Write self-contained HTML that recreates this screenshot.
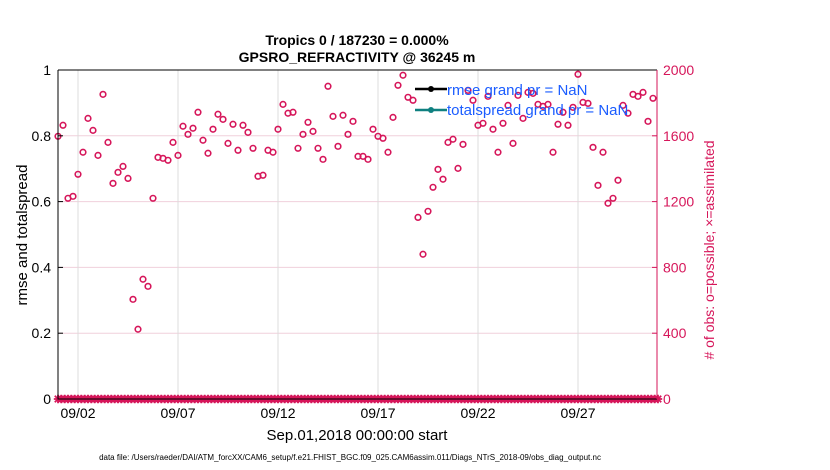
<!DOCTYPE html>
<html><head><meta charset="utf-8"><style>
html,body{margin:0;padding:0;background:#fff;}
svg{display:block;font-family:"Liberation Sans",Arial,sans-serif;}
</style></head><body>
<svg id="chart" width="830" height="470" viewBox="0 0 830 470">
<rect width="830" height="470" fill="#fff"/>
<text x="357" y="45" text-anchor="middle" font-size="14" font-weight="bold">Tropics 0 / 187230 = 0.000%</text>
<text x="357" y="62" text-anchor="middle" font-size="14" font-weight="bold">GPSRO_REFRACTIVITY @ 36245 m</text>
<g id="grid"></g>
<g id="marks"></g>
<g id="axes"></g>
<text transform="translate(27,235) rotate(-90)" text-anchor="middle" font-size="15">rmse and totalspread</text>
<text transform="translate(714,250) rotate(-90)" text-anchor="middle" font-size="14" fill="#d6165a"># of obs: o=possible; ×=assimilated</text>
<text x="357" y="440" text-anchor="middle" font-size="15">Sep.01,2018 00:00:00 start</text>
<text x="350" y="460" text-anchor="middle" font-size="8">data file: /Users/raeder/DAI/ATM_forcXX/CAM6_setup/f.e21.FHIST_BGC.f09_025.CAM6assim.011/Diags_NTrS_2018-09/obs_diag_output.nc</text>
<g id="marksTop"></g>
<g>
<line x1="415" y1="89" x2="447" y2="89" stroke="#000" stroke-width="2.5"/>
<circle cx="431" cy="89" r="3" fill="#000"/>
<text x="447" y="95" font-size="15" fill="#1a5cff">rmse grand pr = NaN</text>
<line x1="415" y1="110" x2="447" y2="110" stroke="#0f8080" stroke-width="2.5"/>
<circle cx="431" cy="110" r="3" fill="#0f8080"/>
<text x="447" y="115" font-size="15" fill="#1a5cff">totalspread grand pr = NaN</text>
</g>
</svg>
<script>
const possibleCounts=[1597,1664,1220,1232,1366,1500,1706,1633,1481,1852,1560,1311,1378,1414,1341,606,424,728,685,1220,1469,1463,1451,1560,1481,1658,1609,1646,1743,1573,1494,1640,1731,1700,1554,1670,1512,1664,1621,1524,1354,1360,1512,1500,1640,1791,1737,1743,1524,1609,1682,1627,1524,1457,1901,1718,1536,1725,1609,1688,1475,1475,1457,1640,1597,1585,1500,1712,1907,1968,1834,1816,1104,880,1141,1287,1396,1336,1560,1579,1402,1548,1876,1816,1664,1676,1840,1640,1500,1676,1785,1554,1846,1706,1864,1858,1791,1779,1791,1500,1670,1743,1664,1773,1974,1803,1797,1530,1299,1500,1190,1220,1330,1785,1737,1852,1840,1864,1688,1828];
const assimilatedCounts=new Array(181).fill(0);
const leftTicks=[0,0.2,0.4,0.6,0.8,1];
const leftTickLabels=["0","0.2","0.4","0.6","0.8","1"];
const rightTicks=[0,400,800,1200,1600,2000];
const dateTicks=[1,6,11,16,21,26];
const dateTickLabels=["09/02","09/07","09/12","09/17","09/22","09/27"];
const stepDays=0.25;
const assimStepDays=1/6;

const NS="http://www.w3.org/2000/svg";
const X0=58,X1=657,Y0=399,Y1=70,DAYS=29.95;
const xs=d=>X0+(d/DAYS)*(X1-X0);
const yl=v=>Y0-v*(Y0-Y1);
const yr=v=>Y0-v/2000*(Y0-Y1);
const RED="#d6165a";
function mk(tag,attrs,parent){const e=document.createElementNS(NS,tag);for(const k in attrs)e.setAttribute(k,attrs[k]);parent.appendChild(e);return e;}
const grid=document.getElementById('grid'),marks=document.getElementById('marks'),axes=document.getElementById('axes');

leftTicks.forEach((t,i)=>{
  const y=yl(t);
  if(t>0&&t<1){const g=mk('line',{x1:X0,x2:X1,y1:y,y2:y,stroke:'#f0d0dc','stroke-width':1},grid);
  
  }
  const tk=mk('line',{x1:X0,x2:X0+5,y1:y,y2:y,stroke:'#000'},axes);
  
  
  const tx=mk('text',{x:X0-7,y:y+5,'text-anchor':'end','font-size':14},axes);
  tx.textContent=leftTickLabels[i];
  
  
});
rightTicks.forEach(t=>{
  const y=yr(t);
  const tk=mk('line',{x1:X1-5,x2:X1,y1:y,y2:y,stroke:RED},axes);
  
  
  const tx=mk('text',{x:X1+6,y:y+5,'font-size':14,fill:RED},axes);
  tx.textContent=String(t);
  
  
});
dateTicks.forEach((d,i)=>{
  const x=xs(d);
  const g=mk('line',{x1:x,x2:x,y1:Y1,y2:Y0,stroke:'#dcdcdc'},grid);
  
  
  const tx=mk('text',{x:x,y:418,'text-anchor':'middle','font-size':14},axes);
  tx.textContent=dateTickLabels[i];
  
  
});
const fr=mk('path',{d:`M${X0},${Y1}H${X1}M${X0},${Y1}V${Y0}H${X1}`,stroke:'#000',fill:'none'},axes);


const ra=mk('line',{x1:X1,x2:X1,y1:Y1,y2:Y0,stroke:RED},axes);



possibleCounts.forEach((v,i)=>{
  const c=mk('circle',{cx:xs(i*stepDays),cy:yr(v),r:2.8,fill:'none',stroke:RED,'stroke-width':1.6},marks);
  
  
});
assimilatedCounts.forEach((v,i)=>{
  const x=xs(i*assimStepDays),y=yr(v),s=3.2;
  const p=mk('path',{d:`M${x-s},${y-s}L${x+s},${y+s}M${x-s},${y+s}L${x+s},${y-s}M${x-s-1},${y}H${x+s+1}M${x},${y-s-1}V${y+s+1}`,stroke:RED,'stroke-width':1.8},marks);
  
  
});
</script>
</body></html>
